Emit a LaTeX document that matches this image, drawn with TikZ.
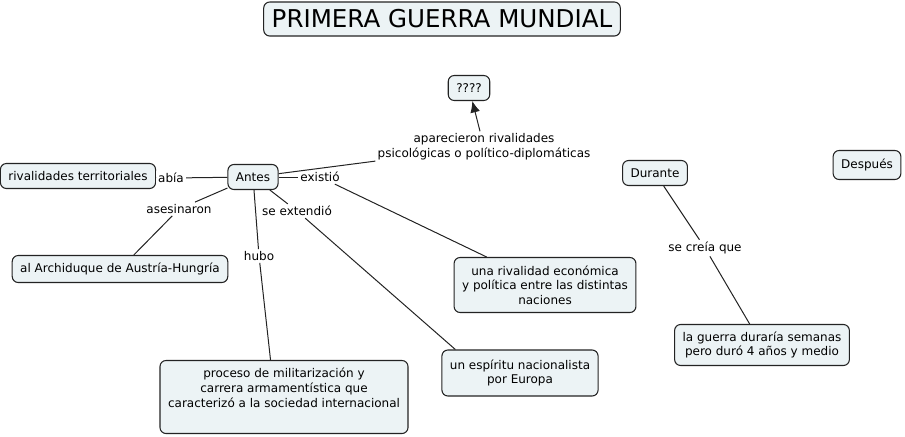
\documentclass[tikz,border=0pt]{standalone}
\usepackage{fontspec}
\setmainfont{DejaVu Sans}
\usetikzlibrary{positioning,arrows.meta}
\definecolor{mapfill}{RGB}{236,243,245}
\definecolor{mapline}{RGB}{35,35,35}

\begin{document}
\begin{tikzpicture}[x=0.75pt,y=-0.75pt,
  concept/.style={draw=mapline, line width=0.8pt, rounded corners=4.5pt, fill=mapfill, inner xsep=6pt, inner ysep=3pt, minimum height=18.75pt, align=center, font=\fontsize{9}{11}\selectfont},
  linkword/.style={fill=white, inner sep=1.5pt, align=center, font=\fontsize{9}{11.5}\selectfont},
  conn/.style={draw=mapline, line width=0.75pt}
]
  \useasboundingbox (0,0) rectangle (905,436);

  \node[concept, font=\fontsize{18.4}{22}\selectfont, minimum height=25.5pt] (titulo) at (442,19) {PRIMERA GUERRA MUNDIAL};
  \node[concept] (interrog) at (469,88) {????};
  \node[concept] (antes) at (253,177) {Antes};
  \node[concept] (durante) at (655,173) {Durante};
  \node[concept, minimum height=21.75pt] (despues) at (867,165) {Después};
  \node[concept] (territ) at (78,176) {rivalidades territoriales};
  \node[concept, minimum height=20.25pt] (archiduque) at (120,269) {al Archiduque de Austría-Hungría};
  \node[concept, minimum height=41.25pt] (economica) at (545,285) {una rivalidad económica\\y política entre las distintas\\naciones};
  \node[concept, minimum height=30.75pt] (guerra) at (762,345) {la guerra duraría semanas\\pero duró 4 años y medio};
  \node[concept, minimum height=34.5pt, minimum width=117pt] (espiritu) at (520,373) {un espíritu nacionalista\\por Europa};
  \node[concept, minimum height=54.75pt, minimum width=186pt] (proceso) at (284,397) {proceso de militarización y\\carrera armamentística que\\caracterizó a la sociedad internacional\\[3pt]\mbox{}};

  \node[linkword] (habia) at (171,178) {abía};
  \node[linkword] (asesinaron) at (179,209) {asesinaron};
  \node[linkword] (hubo) at (259,256) {hubo};
  \node[linkword] (extendio) at (297,211) {se extendió};
  \node[linkword] (existio) at (320,177) {existió};
  \node[linkword] (aparecieron) at (484,147) {aparecieron rivalidades\\psicológicas o político-diplomáticas};
  \node[linkword] (creia) at (705,248) {se creía que};

  \draw[conn] (antes) -- (habia);
  \draw[conn] (habia) -- (territ);
  \draw[conn] (antes) -- (asesinaron);
  \draw[conn] (asesinaron) -- (archiduque);
  \draw[conn] (antes) -- (hubo);
  \draw[conn] (hubo) -- (proceso.110);
  \draw[conn] (antes) -- (extendio);
  \draw[conn] (extendio) -- (espiritu.160);
  \draw[conn] (antes) -- (existio);
  \draw[conn] (existio) -- (economica);
  \draw[conn] (antes) -- (aparecieron);
  \draw[conn, -{Latex[length=3mm,width=2.6mm]}] (aparecieron) -- (interrog);
  \draw[conn] (durante) -- (creia);
  \draw[conn] (creia) -- (guerra);
\end{tikzpicture}
\end{document}
